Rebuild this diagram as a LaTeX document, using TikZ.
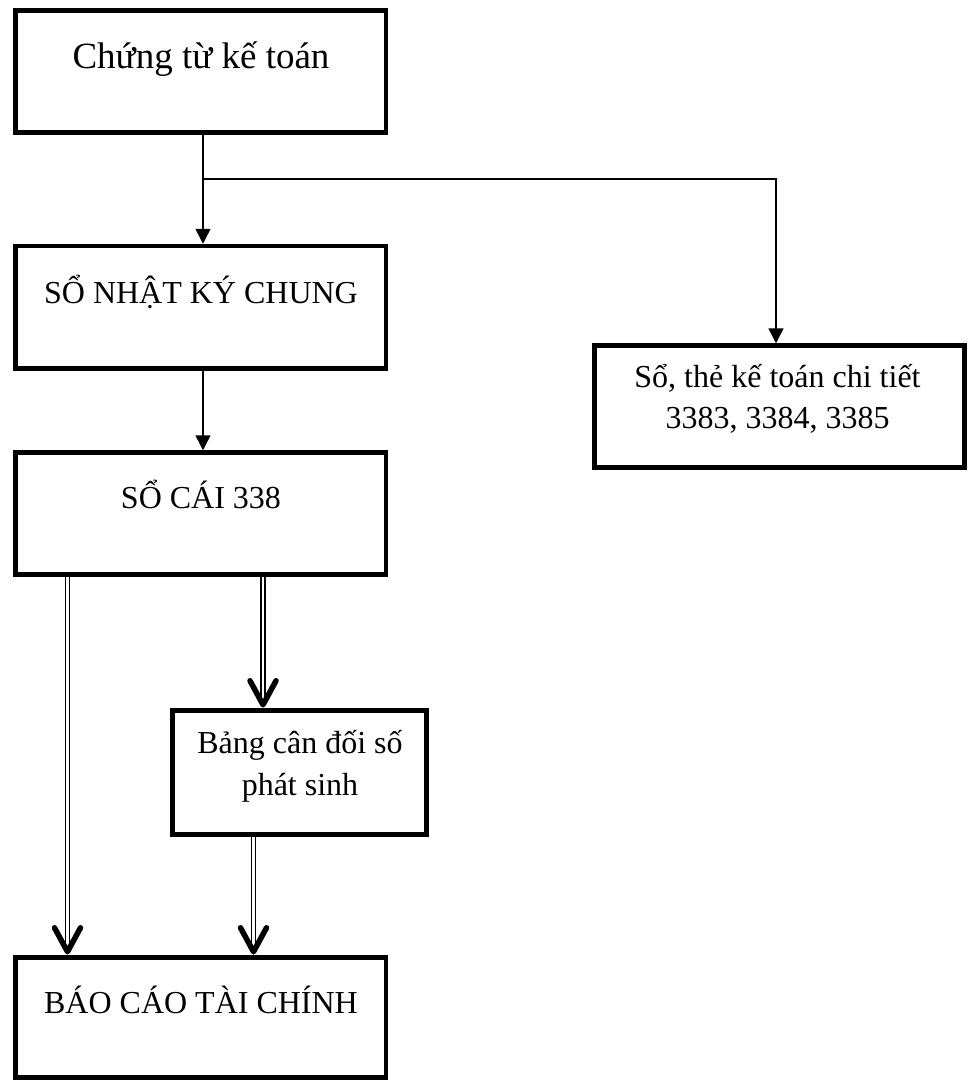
\documentclass[tikz,border=0pt]{standalone}
\usepackage{fontspec}
\setmainfont{Liberation Serif}
\usetikzlibrary{arrows.meta,calc}
\begin{document}
\begin{tikzpicture}[x=1pt,y=-1pt,
  stepbox/.style={draw=black, line width=4.5pt, inner sep=0pt, rectangle},
  txt/.style={font=\fontsize{32}{38}\selectfont, inner sep=0pt, anchor=base},
  bigtxt/.style={font=\fontsize{37}{44}\selectfont, inner sep=0pt, anchor=base},
  flow/.style={line width=1.5pt, -{Triangle[length=15pt,width=15pt]}},
  dbl/.style={double=white, draw=black, double distance=2.4pt, line width=1.4pt},
  vtip/.style={line width=5.5pt, line cap=round, line join=round}]
\useasboundingbox (0,0) rectangle (971,1081);

% boxes
\node[stepbox, minimum width=370.5pt, minimum height=122pt]   (b1) at (200.75,71.5) {};
\node[stepbox, minimum width=370.5pt, minimum height=122.5pt] (b2) at (200.75,307.25) {};
\node[stepbox, minimum width=370.5pt, minimum height=122pt]   (b3) at (200.75,513.5) {};
\node[stepbox, minimum width=254pt,   minimum height=124pt]   (b4) at (299.5,772.5) {};
\node[stepbox, minimum width=370.5pt, minimum height=120pt]   (b5) at (200.75,1017.5) {};
\node[stepbox, minimum width=370pt,   minimum height=122pt]   (b6) at (779.5,406.5) {};

% labels
\node[bigtxt] (t1)  at (201,68)    {Chứng từ kế toán};
\node[txt]    (t2)  at (201,303)   {SỔ NHẬT KÝ CHUNG};
\node[txt]    (t3)  at (201,508)   {SỔ CÁI 338};
\node[txt]    (t4a) at (300,753)   {Bảng cân đối số};
\node[txt]    (t4b) at (300,795)   {phát sinh};
\node[txt]    (t5)  at (201,1013)  {BÁO CÁO TÀI CHÍNH};
\node[txt]    (t6a) at (777.5,387) {Sổ, thẻ kế toán chi tiết};
\node[txt]    (t6b) at (777.5,428) {3383, 3384, 3385};

% single-line connectors
\coordinate (cx) at (203,0);
\coordinate (j)  at (203,179);
\coordinate (kx) at (776,0);
\draw[flow] (cx |- b1.south) -- (cx |- b2.north);
\draw[flow] (j) -| (kx |- b6.north);
\draw[flow] (cx |- b2.south) -- (cx |- b3.north);

% double-line connectors with open heads
\coordinate (dl) at (67.5,0);
\coordinate (dm) at (263,0);
\coordinate (dn) at (253.5,0);
\coordinate (e1) at ($(dl |- b5.north)+(0,-3.5)$);
\coordinate (e2) at ($(dm |- b4.north)+(0,-3.5)$);
\coordinate (e3) at ($(dn |- b5.north)+(0,-3.5)$);
\draw[dbl] (dl |- b3.south) -- ($(e1)+(0,-4)$);
\draw[dbl] (dm |- b3.south) -- ($(e2)+(0,-4)$);
\draw[dbl] (dn |- b4.south) -- ($(e3)+(0,-4)$);
\foreach \e in {e1,e2,e3}
  \draw[vtip] ($(\e)+(-13,-24)$) -- (\e) -- ($(\e)+(13,-24)$);
\end{tikzpicture}
\end{document}
